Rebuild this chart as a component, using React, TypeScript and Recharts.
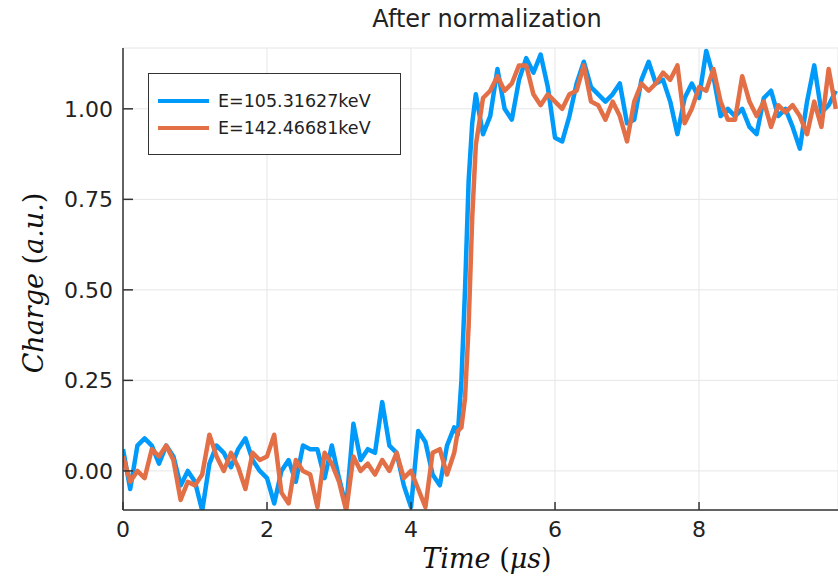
import React from 'react';
import { LineChart, Line, XAxis, YAxis, CartesianGrid } from 'recharts';

const TIME = [
  0, 0.1, 0.2, 0.3, 0.4, 0.5, 0.6, 0.7, 0.8, 0.9,
  1, 1.1, 1.2, 1.3, 1.4, 1.5, 1.6, 1.7, 1.8, 1.9,
  2, 2.1, 2.2, 2.3, 2.4, 2.5, 2.6, 2.7, 2.8, 2.9,
  3, 3.1, 3.2, 3.3, 3.4, 3.5, 3.6, 3.7, 3.8, 3.9,
  4, 4.1, 4.2, 4.3, 4.4, 4.5, 4.6, 4.65, 4.7, 4.75, 4.8, 4.85, 4.9,
  5, 5.1, 5.2, 5.3, 5.4, 5.5, 5.6, 5.7, 5.8, 5.9,
  6, 6.1, 6.2, 6.3, 6.4, 6.5, 6.6, 6.7, 6.8, 6.9,
  7, 7.1, 7.2, 7.3, 7.4, 7.5, 7.6, 7.7, 7.8, 7.9,
  8, 8.1, 8.2, 8.3, 8.4, 8.5, 8.6, 8.7, 8.8, 8.9,
  9, 9.1, 9.2, 9.3, 9.4, 9.5, 9.6, 9.7, 9.8, 9.9,
];

// E=105.31627keV
const LOW_E = [
  0.06, -0.05, 0.07, 0.09, 0.07, 0.02, 0.07, 0.04, -0.04, 0.0,
  -0.03, -0.11, 0.02, 0.07, 0.05, 0.01, 0.06, 0.09, 0.03, 0.0,
  -0.02, -0.09, 0.0, 0.03, -0.03, 0.07, 0.06, 0.06, -0.02, 0.07,
  -0.02, -0.1, 0.13, 0.03, 0.06, 0.05, 0.19, 0.07, 0.05, -0.04,
  -0.1, 0.11, 0.08, -0.01, -0.04, 0.07, 0.12, 0.1, 0.25, 0.5, 0.8, 0.96, 1.04,
  0.93, 0.98, 1.11, 1.0, 0.97, 1.08, 1.14, 1.1, 1.15, 1.06,
  0.92, 0.91, 0.98, 1.07, 1.13, 1.06, 1.04, 1.02, 1.04, 1.07,
  0.96, 0.97, 1.08, 1.13, 1.07, 1.08, 1.02, 0.93, 1.03, 1.07,
  1.03, 1.16, 1.09, 0.98, 1.0, 0.98, 1.0, 0.95, 0.93, 1.03,
  1.05, 0.98, 1.0, 0.95, 0.89, 1.02, 1.12, 0.99, 1.01, 1.05,
];

// E=142.46681keV
const HIGH_E = [
  0.04, -0.03, 0.0, -0.02, 0.06, 0.04, 0.07, 0.03, -0.08, -0.03,
  -0.04, -0.01, 0.1, 0.04, 0.0, 0.05, 0.01, -0.05, 0.05, 0.03,
  0.04, 0.1, -0.06, -0.09, 0.03, 0.0, -0.01, -0.1, 0.05, 0.02,
  -0.03, -0.11, 0.04, 0.0, 0.02, -0.01, 0.03, 0.0, 0.05, -0.02,
  0.0, -0.05, -0.1, 0.05, 0.06, -0.01, 0.05, 0.11, 0.12, 0.2, 0.4, 0.7, 0.9,
  1.03, 1.05, 1.09, 1.05, 1.07, 1.12, 1.12, 1.04, 1.01, 1.04,
  1.02, 1.0, 1.04, 1.05, 1.12, 1.02, 1.01, 0.97, 1.02, 0.98,
  0.91, 1.02, 1.07, 1.05, 1.07, 1.1, 1.08, 1.12, 0.96, 1.0,
  1.06, 1.05, 1.11, 1.02, 0.97, 0.97, 1.09, 1.02, 0.98, 1.02,
  0.95, 1.01, 0.99, 1.01, 0.98, 0.93, 1.02, 0.95, 1.11, 1.0,
];

const X_TICKS = [0, 2, 4, 6, 8];
const Y_TICKS = [0, 0.25, 0.5, 0.75, 1.0];

const SERIES = [
  { key: 'lowE', name: 'E=105.31627keV', color: '#009AFA' },
  { key: 'highE', name: 'E=142.46681keV', color: '#E36F47' },
];

const data = TIME.map((t, i) => ({ t, lowE: LOW_E[i], highE: HIGH_E[i] }));

const FONT = '"DejaVu Sans", "Open Sans", sans-serif';
const MATH = '"DejaVu Serif", "Liberation Serif", serif';
const AXIS = '#333';

function LegendBox() {
  return (
    <div
      style={{
        position: 'absolute',
        left: 148,
        top: 73,
        border: `1.5px solid ${AXIS}`,
        background: '#fff',
        width: 253,
        height: 82,
        boxSizing: 'border-box',
        padding: '13px 0 0 9px',
        fontFamily: FONT,
        fontSize: 17.5,
        color: '#222',
      }}
    >
      {SERIES.map((s) => (
        <div key={s.key} style={{ display: 'flex', alignItems: 'center', height: 27 }}>
          <span style={{ display: 'inline-block', width: 51, height: 4, background: s.color, marginRight: 9 }} />
          <span>{s.name}</span>
        </div>
      ))}
    </div>
  );
}

export default function App() {
  return (
    <div style={{ position: 'absolute', left: 0, top: 0, width: 838, height: 577, overflow: 'hidden', background: '#fff' }}>
      <div
        style={{
          position: 'absolute',
          left: 280,
          width: 414,
          top: 5,
          textAlign: 'center',
          fontFamily: FONT,
          fontSize: 24,
          color: '#222',
        }}
      >
        After normalization
      </div>
      <div
        style={{
          position: 'absolute',
          left: 33,
          top: 283,
          transform: 'translate(-50%, -50%) rotate(-90deg)',
          fontFamily: MATH,
          fontSize: 27,
          whiteSpace: 'nowrap',
          color: '#111',
        }}
      >
        <i>Charge</i> (<i>a.u.</i>)
      </div>
      <div
        style={{
          position: 'absolute',
          left: 280,
          width: 414,
          top: 543,
          textAlign: 'center',
          fontFamily: MATH,
          fontSize: 27,
          whiteSpace: 'nowrap',
          color: '#111',
        }}
      >
        <i>Time</i> (<i>μs</i>)
      </div>
      <LineChart
        width={838}
        height={577}
        data={data}
        margin={{ top: 48, right: 0, bottom: 0, left: 0 }}
        style={{ position: 'absolute', left: 0, top: 0 }}
      >
        <CartesianGrid stroke="#e6e6e6" strokeWidth={1} />
        <XAxis
          dataKey="t"
          type="number"
          domain={[0, 9.93]}
          allowDataOverflow
          ticks={X_TICKS}
          height={67}
          tickSize={-8}
          tickMargin={19}
          axisLine={{ stroke: AXIS, strokeWidth: 1.5 }}
          tickLine={{ stroke: AXIS, strokeWidth: 1.5 }}
          tick={{ fontSize: 22, fill: '#222', fontFamily: FONT }}
          interval={0}
        />
        <YAxis
          type="number"
          domain={[-0.108, 1.168]}
          allowDataOverflow
          ticks={Y_TICKS}
          width={123}
          tickSize={-10}
          tickMargin={20}
          axisLine={{ stroke: AXIS, strokeWidth: 1.5 }}
          tickLine={{ stroke: AXIS, strokeWidth: 1.5 }}
          tick={{ fontSize: 22, fill: '#222', fontFamily: FONT }}
          tickFormatter={(v: number) => v.toFixed(2)}
          interval={0}
        />
        {SERIES.map((s) => (
          <Line
            key={s.key}
            type="linear"
            dataKey={s.key}
            name={s.name}
            stroke={s.color}
            strokeWidth={4.5}
            strokeLinejoin="round"
            dot={false}
            activeDot={false}
            isAnimationActive={false}
          />
        ))}
      </LineChart>
      <LegendBox />
    </div>
  );
}
